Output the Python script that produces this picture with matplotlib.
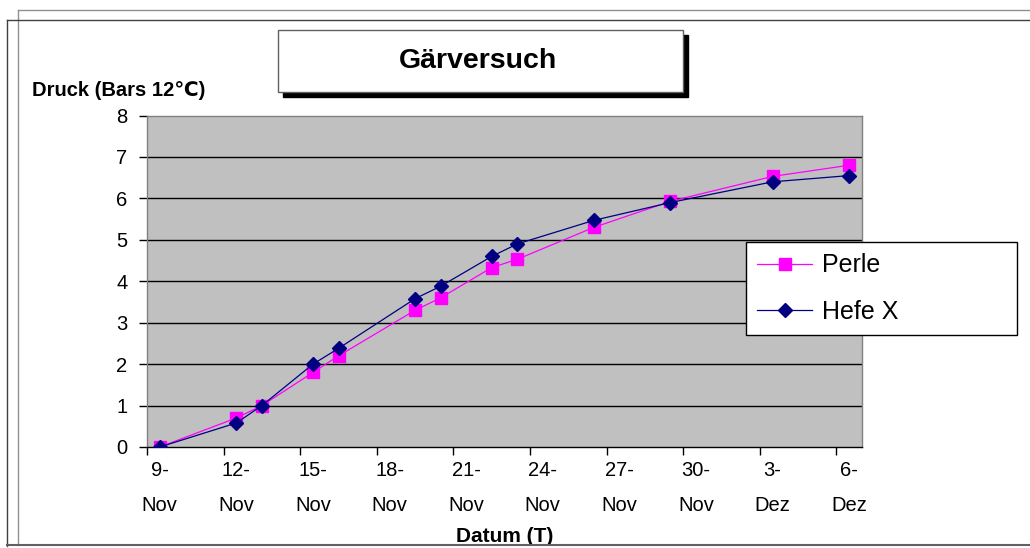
import numpy as np
import matplotlib.pyplot as plt
import matplotlib.dates as mdates
from matplotlib.patches import Rectangle
from matplotlib.lines import Line2D

plt.rcParams['font.family'] = ['Liberation Sans', 'DejaVu Sans']

# measurement days and pressure readings
dates = ['2008-11-09', '2008-11-12', '2008-11-13', '2008-11-15', '2008-11-16',
         '2008-11-19', '2008-11-20', '2008-11-22', '2008-11-23', '2008-11-26',
         '2008-11-29', '2008-12-03', '2008-12-06']
perle = [0, 0.7, 1.0, 1.8, 2.2, 3.3, 3.6, 4.33, 4.53, 5.3, 5.93, 6.53, 6.8]
hefe_x = [0, 0.58, 1.0, 2.0, 2.38, 3.58, 3.88, 4.6, 4.9, 5.47, 5.9, 6.4, 6.55]

tick_dates = ['2008-11-09', '2008-11-12', '2008-11-15', '2008-11-18', '2008-11-21',
              '2008-11-24', '2008-11-27', '2008-11-30', '2008-12-03', '2008-12-06']
tick_labels = ['9-\nNov', '12-\nNov', '15-\nNov', '18-\nNov', '21-\nNov',
               '24-\nNov', '27-\nNov', '30-\nNov', '3-\nDez', '6-\nDez']

W, H = 1030, 548
fig = plt.figure(figsize=(W / 100, H / 100), dpi=100)
fig.patch.set_facecolor('white')

def fx(px):
    return px / W

def fy(py):
    return 1 - py / H

ax = fig.add_axes([fx(147), fy(447), fx(862) - fx(147), fy(115.5) - fy(447)])
ax.set_facecolor('#C0C0C0')

x = mdates.datestr2num(dates)
tx = mdates.datestr2num(tick_dates)

ax.plot(x, perle, color='#FF00FF', lw=0.9, marker='s', ms=8,
        mfc='#FF00FF', mec='#FF00FF', label='Perle', zorder=3)
ax.plot(x, hefe_x, color='#000080', lw=0.9, marker='D', ms=7.5,
        mfc='#000080', mec='#000080', label='Hefe X', zorder=4)

ax.set_xlim(tx[0] - 0.5, tx[-1] + 0.5)
ax.set_ylim(0, 8)
ax.set_yticks(range(0, 9))
for yv in range(1, 8):
    ax.axhline(yv, color='black', lw=1, zorder=1)

ax.set_xticks(tx)
ax.set_xticklabels(tick_labels, fontsize=14.5, linespacing=2.05)
ax.set_xticks(tx - 0.5, minor=True)
ax.tick_params(axis='x', which='major', length=0, pad=10)
ax.tick_params(axis='x', which='minor', length=6, width=1, color='black', direction='out')
ax.tick_params(axis='y', length=6, width=1, color='black', direction='out',
               labelsize=14.5, pad=8)

for side in ['left', 'top', 'right']:
    ax.spines[side].set_color('#808080')
    ax.spines[side].set_linewidth(1)
ax.spines['bottom'].set_color('black')
ax.spines['bottom'].set_linewidth(1)

ax.set_xlabel('Datum (T)', fontsize=15, fontweight='bold', labelpad=9)
fig.text(fx(32), fy(91), 'Druck (Bars 12℃)', fontsize=14.5, fontweight='bold',
         ha='left', va='center')

# title box with shadow
fig.add_artist(Rectangle((fx(283), fy(97)), fx(683) - fx(278), fy(30) - fy(92),
                         transform=fig.transFigure, facecolor='black', edgecolor='black'))
fig.add_artist(Rectangle((fx(278), fy(92)), fx(683) - fx(278), fy(30) - fy(92),
                         transform=fig.transFigure, facecolor='white', edgecolor='#606060', lw=1))
fig.text(fx(478), fy(61), 'Gärversuch', fontsize=20.5, fontweight='bold',
         ha='center', va='center')

# chart frames
fig.add_artist(Line2D([fx(18), fx(1030)], [fy(10), fy(10)], color='#909090', lw=1))
fig.add_artist(Line2D([fx(18), fx(18)], [fy(10), fy(545)], color='#909090', lw=1))
fig.add_artist(Line2D([fx(7), fx(1030)], [fy(20), fy(20)], color='#404040', lw=1))
fig.add_artist(Line2D([fx(7), fx(7)], [fy(20), fy(546)], color='#404040', lw=1))
fig.add_artist(Line2D([fx(7), fx(1030)], [fy(545), fy(545)], color='#606060', lw=1.5))

leg = ax.legend(loc='upper left',
                bbox_to_anchor=(fx(746), fy(242), fx(1017) - fx(746), 0),
                bbox_transform=fig.transFigure, mode='expand', fontsize=18,
                frameon=True, fancybox=False, borderpad=0.45, handlelength=2.2,
                labelspacing=0.9, handletextpad=0.4, borderaxespad=0)
leg.get_frame().set_edgecolor('black')
leg.get_frame().set_linewidth(1)
leg.get_frame().set_alpha(1)

fig.savefig('out.png', dpi=100)
